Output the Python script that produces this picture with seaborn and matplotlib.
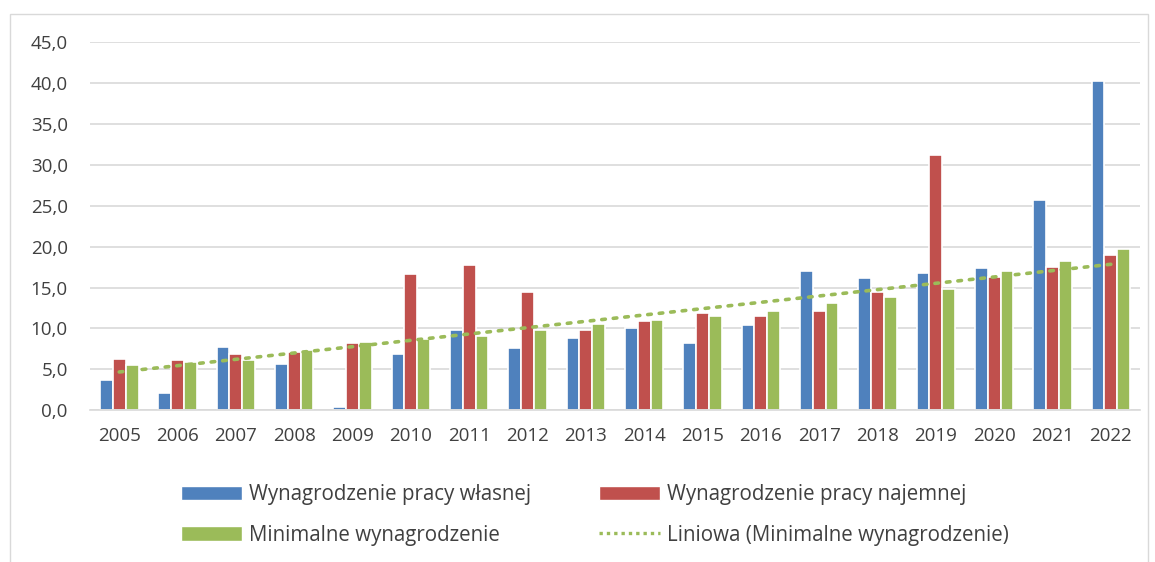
import numpy as np
import pandas as pd
import seaborn as sns
import matplotlib.pyplot as plt
from matplotlib.patches import Patch, Rectangle
from matplotlib.lines import Line2D
from matplotlib.ticker import FuncFormatter

# data
years = [str(y) for y in range(2005, 2023)]
wlasnej = [3.7, 2.1, 7.7, 5.7, 0.4, 6.9, 9.8, 7.6, 8.8, 10.1, 8.2, 10.4,
           17.0, 16.2, 16.8, 17.4, 25.7, 40.3]
najemnej = [6.3, 6.2, 6.9, 7.1, 8.2, 16.6, 17.8, 14.4, 9.8, 10.9, 11.9, 11.5,
            12.1, 14.4, 31.2, 16.3, 17.5, 19.0]
minimalne = [5.5, 5.9, 6.1, 7.4, 8.4, 8.7, 9.1, 9.8, 10.5, 11.0, 11.5, 12.1,
             13.1, 13.8, 14.8, 17.0, 18.3, 19.7]

names = ["Wynagrodzenie pracy własnej", "Wynagrodzenie pracy najemnej",
         "Minimalne wynagrodzenie"]
trend_name = "Liniowa (Minimalne wynagrodzenie)"
colors = ["#4F81BD", "#C0504D", "#9BBB59"]

df = pd.DataFrame({
    "rok": years * 3,
    "wartosc": wlasnej + najemnej + minimalne,
    "seria": [names[0]] * 18 + [names[1]] * 18 + [names[2]] * 18,
})

sns.set_style("white")
plt.rcParams["font.family"] = ["Open Sans", "DejaVu Sans"]
text_col = "#404040"

fig = plt.figure(figsize=(11.55, 5.62), dpi=100)
ax = fig.add_axes([0.078, 0.27, 0.909, 0.655])

sns.barplot(data=df, x="rok", y="wartosc", hue="seria", palette=colors,
            saturation=1, width=0.66, edgecolor="white", linewidth=1.2,
            ax=ax, legend=False)

# linear trend of the minimum wage series
xs = np.arange(len(years))
k, b = np.polyfit(xs, minimalne, 1)
ax.plot(xs, k * xs + b, linestyle=(0, (1, 2.2)), color="#9BBB59",
        linewidth=2.6, dash_capstyle="round")

ax.set_ylim(0, 45)
ax.set_xlim(-0.5, len(years) - 0.5)
ax.set_yticks(np.arange(0, 46, 5))
ax.yaxis.set_major_formatter(FuncFormatter(lambda v, p: f"{v:.1f}".replace(".", ",")))
ax.grid(axis="y", color="#D9D9D9", linewidth=1.2)
ax.set_axisbelow(True)
for s in ["top", "right", "left"]:
    ax.spines[s].set_visible(False)
ax.spines["bottom"].set_color("#D9D9D9")
ax.spines["bottom"].set_linewidth(1.2)
ax.set_xlabel("")
ax.set_ylabel("")
ax.tick_params(axis="y", length=0, pad=16, labelsize=13.5, labelcolor=text_col)
ax.tick_params(axis="x", length=0, pad=12, labelsize=13.5, labelcolor=text_col)

h_bars = [Patch(facecolor=c) for c in colors]
h_trend = Line2D([0], [0], color="#9BBB59", linestyle=(0, (1, 1.2)), linewidth=2.4)
# legend is filled column by column, so order items to read row-wise
handles = [h_bars[0], h_bars[2], h_bars[1], h_trend]
labels = [names[0], names[2], names[1], trend_name]
leg = ax.legend(handles, labels, ncol=2, loc="upper center",
                bbox_to_anchor=(0.481, -0.15), frameon=False, fontsize=14.8,
                handlelength=2.95, handleheight=0.7, handletextpad=0.35,
                columnspacing=3.3, labelspacing=0.95)
for t in leg.get_texts():
    t.set_color(text_col)

fig.add_artist(Rectangle((10 / 1155, -0.02), 1138 / 1155, 1 - 14 / 562 + 0.02,
                         transform=fig.transFigure, fill=False,
                         edgecolor="#D9D9D9", linewidth=1))

fig.savefig("out.png", dpi=100)
